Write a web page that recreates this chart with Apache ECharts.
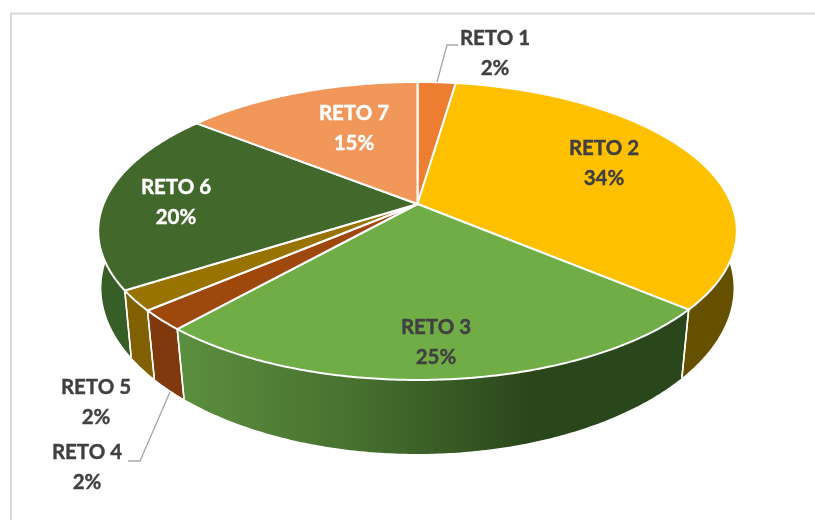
<!DOCTYPE html>
<html>
<head>
<meta charset="utf-8">
<style>html,body{margin:0;padding:0;background:#fff}#c{width:815px;height:520px}</style>
<script src="https://cdn.jsdelivr.net/npm/echarts@6/dist/echarts.min.js"></script>
</head>
<body>
<div id="c"></div>
<script>
// Data
const categories = ['RETO 1','RETO 2','RETO 3','RETO 4','RETO 5','RETO 6','RETO 7'];
const percentLabels = ['2%','34%','25%','2%','2%','20%','15%'];
const values = [2.3, 33.9, 25.3, 2.2, 2.2, 19.8, 14.3];

// Styles
const topColors = ['#ED7D31','#FFC000','#70AD47','#9E480E','#997300','#43682B','#F1975A'];
const wallColors = ['#8F4B1D','#655000',null,'#80390D','#806000','#385E28','#915B36'];
const labelColors = ['#404040','#404040','#404040','#404040','#404040','#FFFFFF','#FFFFFF'];

// Layout of the tilted disc (perspective mapping of the unit circle)
const apexX = 417.5, apexY = 204, persp = 0.181, tiltA = -107.2, widthD = 314;
const depthScaleX0 = 0.995, depthScaleXV = 0.031, bottomY = 454, frontY = 380, depthScaleY = 1.08;
const labelCentres = [[495,53.5],[604,163.5],[436,342.5],[87,467.5],[96,402.5],[176,202.5],[354,128.5]];

const total = values.reduce((a, b) => a + b, 0);
const cumStart = [];
values.reduce((acc, v, i) => { cumStart[i] = acc; return acc + v; }, 0);

function rim(t) {
  const u = Math.sin(t), v = Math.cos(t), w = 1 + persp * v;
  return [apexX + widthD * u / w, (tiltA * v + apexY) / w, v];
}
function floor(p) {
  const s = depthScaleX0 + depthScaleXV * Math.min(p[2], 0);
  return [apexX + (p[0] - apexX) * s, bottomY + (p[1] - frontY) * depthScaleY];
}
function arc(i) {
  const a0 = cumStart[i] / total * 2 * Math.PI, a1 = (cumStart[i] + values[i]) / total * 2 * Math.PI;
  const n = Math.max(4, Math.ceil((a1 - a0) / 0.01)), pts = [];
  for (let k = 0; k <= n; k++) pts.push(rim(a0 + (a1 - a0) * k / n));
  return pts;
}
const xy = q => [q[0], q[1]];

const seriesData = values.map(v => [v]);
const wallGradient = {type:'linear',x:184,y:0,x2:682,y2:0,global:true,colorStops:[
  {offset:0,color:'#5B8E3E'},{offset:0.35,color:'#47702F'},{offset:0.7,color:'#2A461B'},{offset:1,color:'#2A461B'}]};

const option = {
  animation:false,
  backgroundColor:'#FFFFFF',
  graphic:[
    {type:'polyline',silent:true,z:0,shape:{points:[[11,520],[11,13.5],[815,13.5]]},style:{stroke:'#D9D9D9',lineWidth:2,fill:'none'}},
    {type:'polyline',silent:true,z:20,shape:{points:[[458,45],[447,45],[437,82]]},style:{stroke:'#A6A6A6',lineWidth:1.3,fill:'none'}},
    {type:'polyline',silent:true,z:20,shape:{points:[[128,461],[140,461],[170,392]]},style:{stroke:'#A6A6A6',lineWidth:1.3,fill:'none'}}
  ],
  series:[
    {type:'custom',name:'walls',coordinateSystem:'none',z:2,silent:true,data:seriesData,
     renderItem:(p)=>{
       const i=p.dataIndex, top=arc(i), low=top.map(floor), last=top.length-1;
       const edge=(k)=>({type:'line',shape:{x1:top[k][0],y1:top[k][1],x2:low[k][0],y2:low[k][1]},style:{stroke:'#FFFFFF',lineWidth:1.5},z2:2});
       return {type:'group',children:[
         {type:'polygon',shape:{points:top.map(xy).concat(low.slice().reverse())},style:{fill:wallColors[i]||wallGradient},z2:1},
         edge(0),edge(last)
       ]};
     }},
    {type:'custom',name:'tops',coordinateSystem:'none',z:3,silent:true,data:seriesData,
     renderItem:(p)=>{
       const i=p.dataIndex, pts=[[apexX,apexY]].concat(arc(i).map(xy));
       return {type:'polygon',shape:{points:pts},style:{fill:topColors[i],stroke:'#FFFFFF',lineWidth:2,lineJoin:'round'}};
     }},
    {type:'custom',name:'labels',coordinateSystem:'none',z:4,silent:true,data:seriesData,
     renderItem:(p)=>{
       const i=p.dataIndex, c=labelCentres[i];
       return {type:'text',style:{text:categories[i]+'\n'+percentLabels[i],x:c[0],y:c[1],
         align:'center',verticalAlign:'middle',lineHeight:30,fill:labelColors[i],
         stroke:labelColors[i],lineWidth:0.4,
         font:'bold 20.5px Lato, "Open Sans", sans-serif'}};
     }}
  ]
};
const chart = echarts.init(document.getElementById('c'),null,{renderer:'canvas'});
chart.setOption(option);
</script>
</body>
</html>
